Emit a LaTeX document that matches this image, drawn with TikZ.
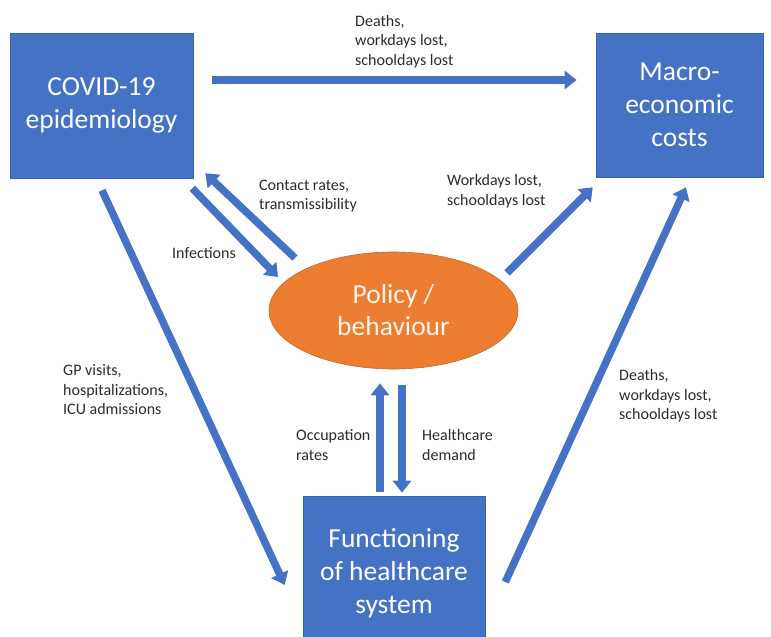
\documentclass[tikz,border=0pt]{standalone}
\usepackage{fontspec}
\setmainfont{Carlito}
\usetikzlibrary{arrows.meta,calc,shapes.geometric}

\definecolor{boxblue}{HTML}{4472C4}
\definecolor{boxedge}{HTML}{3A62AC}
\definecolor{policyorange}{HTML}{ED7D31}
\definecolor{policyedge}{HTML}{C0662A}
\definecolor{labelgray}{HTML}{2B2B2B}

\tikzset{
  block/.style={rectangle, fill=boxblue, draw=boxedge, line width=0.6pt,
    text=white, align=center, inner sep=0pt,
    font=\fontsize{27.5}{33}\selectfont},
  oval/.style={ellipse, fill=policyorange, draw=policyedge, line width=0.6pt,
    text=white!92!policyorange, align=center, inner sep=0pt,
    font=\fontsize{27.5}{32}\selectfont},
  flow/.style={draw=boxblue, line width=7.5pt,
    -{Triangle[width=18pt,length=12pt]}},
  note/.style={text=labelgray, align=left, anchor=west, inner sep=0pt,
    font=\fontsize{16}{19.5}\selectfont}
}

\begin{document}
\begin{tikzpicture}[x=1pt,y=-1pt]

% Fix the frame of the picture
\useasboundingbox (0,0) rectangle (771,637);

% Define the four blocks
\node[block, minimum width=183pt, minimum height=145pt] (epi) at (101.5,105.5) {COVID-19\\epidemiology};
\node[block, minimum width=167pt, minimum height=144pt] (macro) at (679.5,105) {Macro-\\economic\\costs};
\node[oval, minimum width=249pt, minimum height=117pt] (policy) at (393.5,310.5) {Policy /\\behaviour};
\node[block, minimum width=182pt, minimum height=154pt] (health) at (394,573) {Functioning\\of healthcare\\system};

% Epidemiology to costs (top)
\draw[flow] ($(epi.east)+(19,-25.5)$) -- ($(macro.west)+(-19,-25)$);

% Policy back to epidemiology
\draw[flow] ($(policy.center)+(-98.5,-52.5)$) -- ($(epi.south east)+(12,-5)$);

% Epidemiology to policy
\draw[flow] ($(epi.south east)+(-1,10)$) -- ($(policy.center)+(-115.5,-33.5)$);

% Epidemiology to healthcare system
\draw[flow] ($(epi.south)+(0.5,12)$) -- ($(health.west)+(-18,12)$);

% Policy to costs
\draw[flow] ($(policy.center)+(113.5,-37.5)$) -- ($(macro.south west)+(-3,10)$);

% Healthcare system to costs
\draw[flow] ($(health.east)+(20,9)$) -- ($(macro.south)+(6.5,10)$);

% Healthcare system up to policy
\draw[flow] ($(health.north)+(-14,-4)$) -- ($(policy.south)+(-13.5,14)$);

% Policy down to healthcare system
\draw[flow] ($(policy.south)+(8.5,16)$) -- ($(health.north)+(8,-3)$);

% Labels of the arrows
\node[note] (lbltop) at (355,41.5) {Deaths,\\workdays lost,\\schooldays lost};
\node[note] (lblcontact) at (259,196) {Contact rates,\\transmissibility};
\node[note] (lblinf) at (172,253) {Infections};
\node[note] (lblwork) at (447,191) {Workdays lost,\\schooldays lost};
\node[note] (lblgp) at (63,390) {GP visits,\\hospitalizations,\\ICU admissions};
\node[note] (lblocc) at (296,445) {Occupation\\rates};
\node[note] (lbldemand) at (422,445) {Healthcare\\demand};
\node[note] (lblright) at (619,396) {Deaths,\\workdays lost,\\schooldays lost};

\end{tikzpicture}
\end{document}
